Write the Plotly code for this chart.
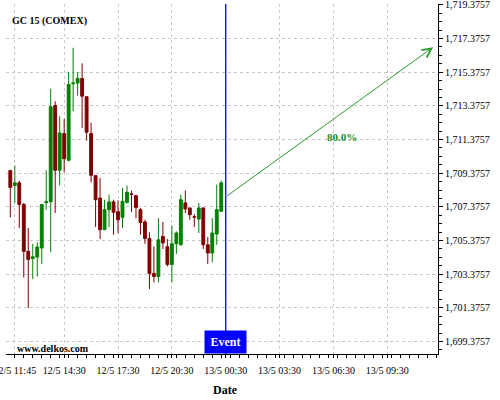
import plotly.graph_objects as go

# ---- data (15-minute candles, GC 15 COMEX) ----
times = ["11:30","11:45","12:00","12:15","12:30","12:45","13:00","13:15","13:30","13:45","14:00","14:15",
         "14:30","14:45","15:00","15:15","15:30","15:45","16:00","16:15","16:30","16:45","17:00","17:15",
         "17:30","17:45","18:00","18:15","18:30","18:45","19:00","19:15","19:30","19:45","20:00","20:15",
         "20:30","20:45","21:00","21:15","21:30","21:45","22:00","22:15","22:30","22:45","00:00","00:15"]
open_ = [1709.53,1708.65,1708.80,1707.52,1704.73,1704.31,1704.39,1704.93,1707.62,1707.68,1713.40,1709.55,
         1711.73,1710.14,1714.69,1714.73,1715.01,1713.92,1711.73,1709.23,1707.90,1706.02,1707.21,1707.67,
         1707.09,1706.75,1707.64,1708.14,1708.04,1707.21,1706.48,1705.50,1703.42,1703.24,1705.62,1705.01,
         1703.95,1705.18,1705.12,1707.61,1707.31,1706.78,1706.65,1707.31,1705.12,1704.63,1705.76,1707.11]
high = [1709.58,1709.83,1708.93,1707.61,1706.12,1705.18,1705.28,1707.51,1709.55,1714.39,1713.65,1712.76,
        1712.61,1715.40,1716.83,1715.40,1715.90,1713.92,1712.37,1709.23,1709.09,1707.80,1708.10,1707.80,
        1707.76,1708.50,1708.64,1708.34,1708.08,1707.31,1706.61,1705.86,1705.02,1706.71,1706.48,1705.46,
        1706.27,1705.92,1708.10,1708.34,1707.33,1706.95,1707.61,1707.33,1705.58,1706.71,1708.70,1708.93]
low = [1706.75,1707.61,1706.12,1703.18,1701.36,1703.08,1703.24,1703.98,1707.21,1704.69,1707.01,1708.65,
       1709.43,1710.08,1713.06,1713.98,1712.07,1711.31,1708.83,1706.18,1705.46,1706.02,1706.18,1705.72,
       1705.82,1706.12,1707.58,1707.07,1706.69,1705.72,1705.18,1702.49,1702.88,1702.88,1704.87,1703.83,
       1702.90,1704.57,1705.08,1707.01,1706.61,1706.18,1705.82,1704.87,1703.98,1704.07,1705.12,1707.08]
close = [1708.53,1708.80,1707.52,1704.73,1704.25,1704.41,1704.99,1707.51,1707.68,1713.32,1709.55,1711.77,
         1710.23,1714.65,1714.73,1715.01,1713.95,1711.81,1709.25,1707.80,1706.02,1707.21,1707.67,1707.05,
         1706.61,1707.70,1708.24,1708.12,1707.34,1706.45,1705.50,1703.42,1703.24,1705.42,1705.23,1703.95,
         1705.18,1705.82,1707.80,1707.25,1706.91,1706.77,1707.31,1705.12,1704.63,1705.82,1707.21,1708.80]

tick_positions = [1, 12, 24, 36, 48, 60, 72, 84]
tick_labels = ["12/5 11:45", "12/5 14:30", "12/5 17:30", "12/5 20:30",
               "13/5 00:30", "13/5 03:30", "13/5 06:30", "13/5 09:30"]
price_ticks = [1699.3757, 1701.3757, 1703.3757, 1705.3757, 1707.3757, 1709.3757,
               1711.3757, 1713.3757, 1715.3757, 1717.3757, 1719.3757]
price_labels = ["1,699.3757", "1,701.3757", "1,703.3757", "1,705.3757", "1,707.3757", "1,709.3757",
                "1,711.3757", "1,713.3757", "1,715.3757", "1,717.3757", "1,719.3757"]

event_index = 48
forecast_start = 1707.97
forecast_end_index = 94.2
forecast_end = 1716.86
label_index = 74.0
label_price = 1711.54
forecast_label = "80.0%"

x = list(range(len(open_)))
SERIF = "Liberation Serif"
UP = "#008000"
DOWN = "#800000"

fig = go.Figure()
fig.add_trace(go.Candlestick(
    x=x, open=open_, high=high, low=low, close=close, text=times,
    increasing=dict(line=dict(color=UP, width=1), fillcolor=UP),
    decreasing=dict(line=dict(color=DOWN, width=1), fillcolor=DOWN),
    whiskerwidth=0, showlegend=False, hoverinfo="text+y"))

fig.add_shape(type="line", xref="x", yref="paper", x0=event_index, x1=event_index,
              y0=0, y1=1, line=dict(color="#0000ff", width=1.3))

fig.add_annotation(x=forecast_end_index, y=forecast_end, ax=event_index, ay=forecast_start,
                   xref="x", yref="y", axref="x", ayref="y", showarrow=True,
                   arrowhead=5, arrowsize=1.8, arrowwidth=1, arrowcolor="#2a9a2a", text="")
fig.add_annotation(x=label_index, y=label_price, xref="x", yref="y",
                   xanchor="center", yanchor="middle",
                   text="<b>" + forecast_label + "</b>",
                   showarrow=False, font=dict(family=SERIF, size=11, color="#1f8a1f"))

fig.add_annotation(x=event_index, y=0, xref="x", yref="paper", yanchor="bottom",
                   text="<b>Event</b>", showarrow=False, bgcolor="#0000ff", borderpad=0,
                   width=41, height=22, font=dict(family=SERIF, size=12, color="white"))

fig.add_annotation(x=0.009, y=0.952, xref="paper", yref="paper", xanchor="left", yanchor="middle",
                   text="<b>GC 15 (COMEX)</b>", showarrow=False,
                   font=dict(family=SERIF, size=10, color="black"))
fig.add_annotation(x=0.021, y=0.016, xref="paper", yref="paper", xanchor="left", yanchor="middle",
                   text="<b>www.delkos.com</b>", showarrow=False,
                   font=dict(family=SERIF, size=10, color="black"))
fig.add_annotation(x=0.507, y=-0.103, xref="paper", yref="paper", xanchor="center", yanchor="middle",
                   text="<b>Date</b>", showarrow=False,
                   font=dict(family=SERIF, size=12, color="black"))

fig.update_layout(
    width=500, height=400,
    margin=dict(l=6, r=62, t=4, b=46, autoexpand=False),
    paper_bgcolor="white", plot_bgcolor="white",
    boxgap=0.1,
    font=dict(family=SERIF, size=10, color="black"),
    xaxis=dict(range=[-0.96, 95.3], rangeslider=dict(visible=False), automargin=False,
               tickmode="array", tickvals=tick_positions, ticktext=tick_labels,
               ticklabeloverflow="allow", ticklabelstandoff=4,
               ticks="outside", ticklen=3, tickcolor="black",
               minor=dict(ticks="outside", ticklen=3, tick0=1, dtick=2, tickcolor="black"),
               showline=True, linecolor="black", linewidth=1,
               showgrid=True, gridcolor="#c8c8c8", griddash="3px,3px", gridwidth=1,
               zeroline=False, tickfont=dict(family=SERIF, size=10, color="black")),
    yaxis=dict(side="right", range=[1698.63, 1719.43], automargin=False,
               tickmode="array", tickvals=price_ticks, ticktext=price_labels,
               ticklabeloverflow="allow",
               ticks="outside", ticklen=4, tickcolor="black",
               minor=dict(ticks="outside", ticklen=3, tick0=1699.3757, dtick=0.5, tickcolor="black"),
               showline=True, linecolor="black", linewidth=1,
               showgrid=True, gridcolor="#c8c8c8", griddash="3px,3px", gridwidth=1,
               zeroline=False, tickfont=dict(family=SERIF, size=10, color="black")),
)

fig.write_html("out.html", config={"displayModeBar": False},
               post_script="document.body.style.margin='0px';document.body.style.padding='0px';")
